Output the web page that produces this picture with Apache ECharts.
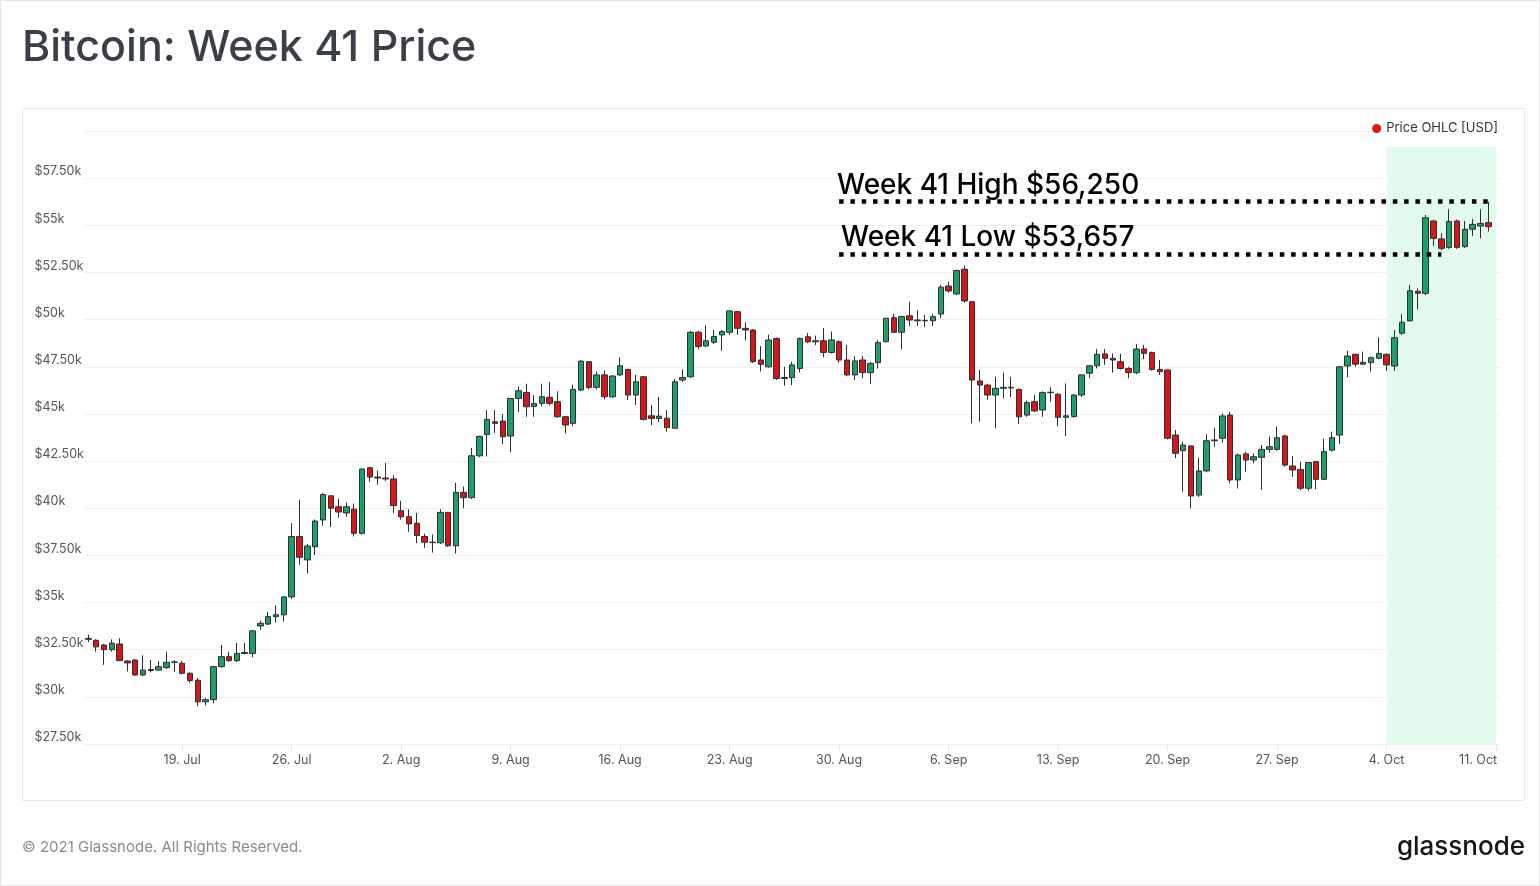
<!DOCTYPE html>
<html>
<head>
<meta charset="utf-8">
<script src="https://cdn.jsdelivr.net/npm/echarts@6/dist/echarts.min.js"></script>
<style>
  html, body { margin: 0; padding: 0; background: #fff; }
  #chart { width: 1540px; height: 886px; }
</style>
</head>
<body>
<div id="chart"></div>
<script>
// ---- DATA (12h candles, first candle opens 13 Jul 2021 00:00 UTC) ----
const firstCandleUTC = Date.UTC(2021, 6, 13, 0, 0, 0);
const candleCount = 180;           // 13 Jul 00:00 .. 10 Oct 12:00
const axisSlots = 181;             // one extra empty slot for 11 Oct
const opens = [33050,33000,32750,32500,32800,31900,31950,31160,31400,31420,31550,31830,31780,31250,30880,29740,29850,31600,32130,31920,32300,32300,33760,33860,34250,34350,35300,38500,37260,37960,39380,40660,40080,39750,39950,38670,42150,41650,41600,41550,39870,39550,39200,38500,38200,38170,39780,38010,40840,40560,42780,43910,44580,44620,43830,45820,46140,45400,45560,45880,45650,44850,44500,46270,47770,46410,47070,45910,47070,47360,46000,46970,44900,44760,44770,44240,46800,46970,49330,48600,48800,49190,49330,50420,49540,49450,47860,47500,49000,46880,46920,47410,49090,48820,48880,48260,48830,47860,47070,47860,47190,47720,48830,50100,49330,50200,49980,49940,49940,50300,51780,51360,52670,50950,46750,46530,46000,46360,46410,46300,44940,45650,45210,46130,46040,44820,44860,46000,47160,47550,48180,47950,47770,47410,47190,48440,48260,47360,47330,43880,43050,43300,40700,41980,43580,43710,44940,41500,42880,42560,42700,43120,43120,43830,42240,42060,41060,42470,41530,43080,43880,47540,48160,47640,47720,47950,48160,47540,49280,49940,51500,51390,55230,54280,53830,55230,53870,54790,54960,55140];
const closes = [33100,32650,32500,32850,31920,31800,31160,31420,31450,31600,31830,31850,31250,30860,29740,29850,31600,32130,31920,32300,32350,33500,33900,34250,34350,35300,38500,37400,38000,39320,40730,40000,39800,40080,38670,42080,41650,41600,41550,40140,39550,39170,38550,38200,38180,39780,38010,40840,40560,42780,43810,44710,44500,43790,45820,46230,45380,45550,45910,45560,44850,44410,46300,47800,46400,47070,45910,47010,47550,46000,46700,44710,44760,44880,44270,46700,46930,49330,48570,48880,49100,49370,50460,49540,49450,47770,47630,48920,46880,46930,47600,49000,48820,48880,48260,48920,47860,47070,47810,47190,47680,48780,50070,49330,50160,49980,49940,49960,50160,51720,51520,52600,50990,46800,46530,46000,46360,46410,46380,44850,45600,45160,46130,46150,44820,44900,46000,47070,47550,48160,47950,47860,47410,47190,48440,48210,47360,47240,43710,42910,43350,40650,41980,43580,43620,44890,41500,42820,42560,42730,43120,43260,43740,42290,42030,41060,42420,41530,43000,43740,47500,48070,47640,47730,47980,48210,47600,49040,49860,51530,51400,55400,54310,53780,55200,53830,54790,55050,55100,54930];
const lows = [32900,32400,31700,32400,31900,31350,31100,31100,31300,31380,31470,31320,31200,30750,29500,29550,29650,31550,31850,31850,32250,32100,33550,33800,33950,34000,35200,37000,36550,37520,39070,39000,39500,39550,38500,38600,41400,41250,41450,39750,39400,38750,38150,37900,37650,38100,37950,37600,40000,40500,42700,42750,44000,43400,42970,45100,44850,44850,45400,45450,44800,43970,44350,46200,46300,46300,45770,45850,47000,45740,45470,44650,44410,44580,44050,44200,46700,46900,48430,48550,48700,48350,49190,49200,48900,47700,47250,47450,46800,46500,46530,47200,48750,48650,48000,48200,47720,47000,46800,46900,46590,47410,48800,49300,48430,49660,49660,49600,49660,50070,51430,51300,50900,44500,44600,45740,44240,45830,45900,44470,44850,45100,44850,45650,44360,43830,44800,45900,46890,47410,47600,47190,47350,46890,47100,47900,47300,47070,43650,42650,40880,40000,40600,41900,43260,43480,41320,41050,41940,42380,40970,42950,43050,42200,41670,40950,40930,41000,41500,43000,43410,46940,47500,47600,47240,47900,47280,47280,49200,49900,50550,51300,53900,53660,53750,53750,53800,54440,54310,54670];
const highs = [33300,33050,32800,33050,33100,31950,32000,32200,31950,31900,32400,31950,31900,31300,31000,29950,31650,32750,32400,32850,32850,33550,34050,34500,34850,35350,39200,40450,38100,39400,40800,40700,40500,40300,40250,42100,42200,42000,42400,41750,40400,39950,39750,38650,38600,39950,39800,41350,41150,43200,43850,45200,45200,45000,45850,46450,46600,46000,46600,46700,46200,44900,46550,47850,47800,47250,47300,47050,48000,47400,47070,47000,45470,45900,45200,46850,47360,49400,49400,49700,49450,49450,50500,50450,49850,49500,48600,49200,49050,47500,47770,49050,49300,49150,49550,49370,48900,48660,48050,48070,47750,48920,50100,50300,50200,50950,50500,50250,50300,51850,52000,52650,52860,51000,47330,46600,46970,47190,46970,46350,45700,46000,46200,46410,46100,46620,46050,47100,47600,48440,48440,48210,48180,47500,48710,48660,48300,47860,47350,44150,43530,43350,42680,43920,44270,45030,45120,42900,43000,42910,43350,43800,44320,43900,42770,42470,42450,42500,43700,44060,47550,48350,48200,48300,48050,49060,48200,49450,50300,51840,51660,55550,55300,54580,55850,55300,55230,55340,55850,56250];
const monthNames = ['Jan','Feb','Mar','Apr','May','Jun','Jul','Aug','Sep','Oct','Nov','Dec'];
const yTicks = { min: 27500, max: 60000, step: 2500 };
const weekHigh = 56250;
const weekLow = 53657;
const highlightStartSlot = 166;    // 4 Oct 00:00
const seriesName = 'Price OHLC [USD]';

// ---- build categories / data ----
const categories = [];
for (let k = 0; k < axisSlots; k++) categories.push(new Date(firstCandleUTC + k * 12 * 3600 * 1000).toISOString());
const ohlc = opens.map((o, i) => [o, closes[i], lows[i], highs[i]]);
const isMonday = (idx) => idx >= 12 && (idx - 12) % 14 === 0;
const fmtDate = (iso) => { const d = new Date(iso); return d.getUTCDate() + '. ' + monthNames[d.getUTCMonth()]; };

const FONT = 'Inter, "Noto Sans", sans-serif';
const chart = echarts.init(document.getElementById('chart'), null, { renderer: 'canvas' });
chart.setOption({
  animation: false,
  backgroundColor: '#ffffff',
  textStyle: { fontFamily: FONT },
  graphic: [
    { type: 'rect', silent: true, z: -10, shape: { x: 0.5, y: 0.5, width: 1539, height: 885 }, style: { fill: null, stroke: '#e4e4e4', lineWidth: 1 } },
    { type: 'rect', silent: true, z: -10, shape: { x: 22.5, y: 108.5, width: 1502, height: 692 }, style: { fill: null, stroke: '#e6e6e6', lineWidth: 1 } },
    { type: 'text', left: 22, top: 27, style: { text: 'Bitcoin: Week 41 Price', font: '500 43px ' + FONT, fill: '#3b3f47' } },
    { type: 'text', left: 22, top: 840, style: { text: '© 2021 Glassnode. All Rights Reserved.', font: '400 15px ' + FONT, fill: '#8a8a8a' } },
    { type: 'text', right: 15, top: 834, style: { text: 'glassnode', font: '500 26px ' + FONT, fill: '#161616' } },
    { type: 'text', left: 837, top: 172, z: 50, style: { text: 'Week 41 High $56,250', font: '500 28px ' + FONT, fill: '#000' } },
    { type: 'text', left: 841, top: 224, z: 50, style: { text: 'Week 41 Low $53,657', font: '500 28px ' + FONT, fill: '#000' } }
  ],
  legend: {
    right: 37, top: 117, itemWidth: 9, itemHeight: 9, itemGap: 5,
    textStyle: { fontSize: 13, color: '#333', fontFamily: FONT },
    data: [{ name: seriesName, icon: 'circle', itemStyle: { color: '#d7191c', borderWidth: 0 } }]
  },
  grid: { left: 84.4, right: 40, top: 131, bottom: 142, containLabel: false },
  xAxis: {
    type: 'category',
    data: categories,
    boundaryGap: true,
    axisLine: { show: false },
    axisTick: { show: true, alignWithLabel: true, interval: (idx) => isMonday(idx), length: 7, lineStyle: { color: '#e3e6ee' } },
    axisLabel: {
      interval: (idx) => isMonday(idx),
      margin: 10,
      color: '#555',
      fontSize: 12.5,
      fontFamily: FONT,
      formatter: (val, idx) => idx === axisSlots - 1 ? '{last|' + fmtDate(val) + '}' : fmtDate(val),
      rich: { last: { padding: [0, 36, 0, 0], color: '#555', fontSize: 12.5, fontFamily: FONT } }
    },
    splitLine: { show: false }
  },
  yAxis: {
    type: 'value',
    min: yTicks.min, max: yTicks.max, interval: yTicks.step,
    axisLine: { show: false },
    axisTick: { show: false },
    axisLabel: {
      align: 'left', margin: 50, verticalAlign: 'bottom', padding: [0, 0, 0, 0],
      color: '#555', fontSize: 12.5, fontFamily: FONT,
      formatter: (v) => v >= yTicks.max ? '' : (v % 1000 === 0 ? '$' + (v / 1000) + 'k' : '$' + (v / 1000).toFixed(2) + 'k')
    },
    splitLine: { show: true, lineStyle: { color: '#efefef', width: 1 } }
  },
  series: [
    {
      type: 'line', name: 'highlight', data: [], z: 1, silent: true,
      markArea: {
        silent: true,
        itemStyle: { color: '#e3fbed' },
        data: [[{ xAxis: categories[highlightStartSlot], yAxis: 59150 }, { xAxis: categories[axisSlots - 1], yAxis: yTicks.min }]]
      }
    },
    {
      type: 'candlestick', name: seriesName, data: ohlc, z: 5, barWidth: 6,
      itemStyle: { color: '#1f9e6b', color0: '#d4161d', borderColor: '#2e2e2e', borderColor0: '#2e2e2e', borderWidth: 1 },
      markLine: {
        silent: true, symbol: 'none', z: 20,
        label: { show: false },
        lineStyle: { color: '#000', width: 4.5, type: [4.5, 6.8], cap: 'butt' },
        data: [
          [{ coord: [categories[96], weekHigh] }, { coord: [categories[179], weekHigh] }],
          [{ coord: [categories[96], 53480] }, { coord: [categories[173], 53480] }]
        ]
      }
    }
  ]
});
</script>
</body>
</html>
